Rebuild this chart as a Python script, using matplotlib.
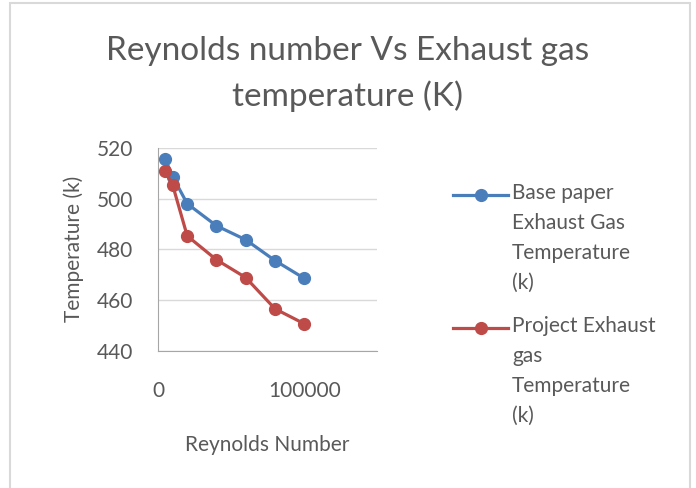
import matplotlib.pyplot as plt
from matplotlib.lines import Line2D
from matplotlib.patches import Rectangle

reynolds = [5000, 10000, 20000, 40000, 60000, 80000, 100000]
base_temp = [515.5, 508.7, 498.0, 489.3, 483.8, 475.6, 468.6]
project_temp = [510.7, 505.4, 485.3, 475.9, 468.9, 456.6, 450.7]
series_names = ["Base paper\nExhaust Gas\nTemperature\n(k)",
                "Project Exhaust\ngas\nTemperature\n(k)"]
colors = ["#4A7EBB", "#BE4B48"]

plt.rcParams['font.family'] = ['Lato', 'DejaVu Sans']
txt = "#595959"

fig = plt.figure(figsize=(6.96, 4.88), dpi=100)
ax = fig.add_axes([0.227, 0.281, 0.315, 0.416])

for ys, c in zip([base_temp, project_temp], colors):
    ax.plot(reynolds, ys, color=c, lw=2.3, marker="o", ms=8.5, zorder=3)

ax.set_xlim(0, 150000)
ax.set_ylim(440, 520)
ax.set_xticks([0, 100000])
ax.set_yticks([440, 460, 480, 500, 520])
ax.yaxis.grid(True, color="#D9D9D9", lw=1)
ax.set_axisbelow(True)
for s in ["top", "right"]:
    ax.spines[s].set_visible(False)
for s in ["left", "bottom"]:
    ax.spines[s].set_color("#A6A6A6")
ax.tick_params(length=0, labelsize=15, colors=txt)
ax.tick_params(axis="y", pad=18)
ax.tick_params(axis="x", pad=22)
ax.set_ylabel("Temperature (k)", fontsize=15, color=txt, labelpad=9)
ax.set_xlabel("Reynolds Number", fontsize=15, color=txt, labelpad=24)

fig.text(0.5, 0.849, "Reynolds number Vs Exhaust gas\ntemperature (K)",
         ha="center", va="center", fontsize=24, color=txt, linespacing=1.56)

# legend drawn by hand so the marker sits on the first text line
for i, (name, c) in enumerate(zip(series_names, colors)):
    y = 1 - (195 + 133 * i) / 488
    fig.add_artist(Line2D([453 / 696, 508 / 696], [y, y], color=c, lw=2.3))
    fig.add_artist(Line2D([480.5 / 696], [y], color=c, marker="o", ms=8.5))
    fig.text(512 / 696, y + 12 / 488, name, ha="left", va="top", fontsize=15,
             color=txt, linespacing=1.62)

fig.add_artist(Rectangle((10 / 696, -0.05), 680 / 696, 1.05 - 3 / 488,
                         transform=fig.transFigure, fill=False,
                         edgecolor="#D9D9D9", lw=1.5))

fig.savefig("out.png", dpi=100)
